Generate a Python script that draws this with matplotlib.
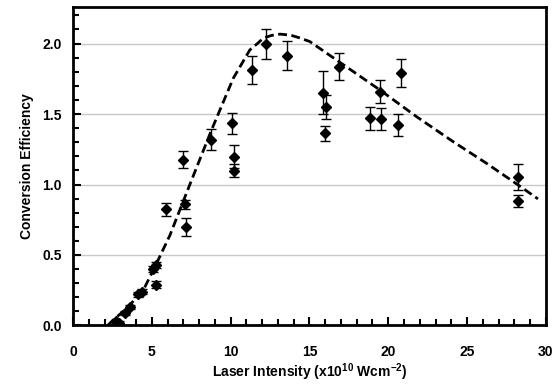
import matplotlib
matplotlib.use("Agg")
import matplotlib.pyplot as plt
from matplotlib.ticker import MultipleLocator

plt.rcParams["font.family"] = ["Liberation Sans", "DejaVu Sans"]
plt.rcParams["font.weight"] = "bold"
plt.rcParams["mathtext.fontset"] = "custom"
plt.rcParams["mathtext.rm"] = "Liberation Sans:bold"
plt.rcParams["mathtext.bf"] = "Liberation Sans:bold"
plt.rcParams["axes.unicode_minus"] = False

# measured points: intensity (x1e10 W/cm2), efficiency, error
intensity = [2.7, 2.95, 3.3, 3.6, 4.1, 4.35, 5.1, 5.25, 5.25, 5.9, 6.96, 7.1,
             7.14, 8.73, 10.1, 10.2, 10.2, 11.37, 12.22, 13.55, 15.87, 15.98,
             16.08, 16.87, 18.83, 19.47, 19.53, 20.63, 20.84, 28.24, 28.24]
efficiency = [0.03, 0.02, 0.09, 0.13, 0.22, 0.24, 0.40, 0.43, 0.29, 0.825,
              1.175, 0.86, 0.70, 1.317, 1.435, 1.198, 1.099, 1.813, 1.998,
              1.913, 1.652, 1.364, 1.549, 1.837, 1.470, 1.659, 1.463, 1.423,
              1.79, 1.052, 0.886]
err = [0.01, 0.01, 0.015, 0.015, 0.02, 0.02, 0.02, 0.02, 0.025, 0.047,
       0.06, 0.033, 0.065, 0.075, 0.075, 0.08, 0.046, 0.097, 0.107, 0.103,
       0.154, 0.053, 0.085, 0.098, 0.08, 0.083, 0.077, 0.077, 0.1, 0.094,
       0.043]

# dashed fit curve
fit_x = [2.2, 2.56, 3.4, 4.46, 5.3, 6.15, 6.78, 7.52, 8.79, 10.17, 11.22,
         11.7, 12.07, 12.6, 13.13, 13.8, 14.39, 15.03, 16.87, 19.47, 21.79,
         24.12, 26.23, 28.24, 29.5]
fit_y = [0.0, 0.04, 0.12, 0.25, 0.44, 0.64, 0.82, 1.03, 1.387, 1.754, 1.955,
         2.0, 2.038, 2.058, 2.067, 2.06, 2.04, 2.014, 1.872, 1.671, 1.482,
         1.304, 1.151, 0.997, 0.898]

fig = plt.figure(figsize=(5.55, 3.87), dpi=100)
ax = fig.add_axes([0.1315, 0.159, 0.852, 0.822])

ax.plot(fit_x, fit_y, color="black", lw=2, ls=(0, (3.2, 1.6)), zorder=3)
ax.errorbar(intensity, efficiency, yerr=err, fmt="D", color="black",
            ms=4.8, ecolor="black", elinewidth=1, capsize=3.5, capthick=1,
            zorder=4)

ax.set_xlim(0, 30)
ax.set_ylim(0, 2.257)
ax.xaxis.set_major_locator(MultipleLocator(5))
ax.xaxis.set_minor_locator(MultipleLocator(1))
ax.yaxis.set_major_locator(MultipleLocator(0.5))
ax.yaxis.set_minor_locator(MultipleLocator(0.1))
ax.yaxis.set_major_formatter(plt.FormatStrFormatter("%.1f"))
ax.tick_params(which="both", direction="in", top=False, right=False,
               labelsize=10, width=1.5)
ax.tick_params(which="major", length=6)
ax.tick_params(axis="y", which="major", pad=8)
ax.tick_params(axis="x", which="major", pad=14)
ax.tick_params(which="minor", length=4)
ax.grid(axis="y", which="major", color="#c8c8c8", lw=1)
ax.set_axisbelow(True)
for s in ax.spines.values():
    s.set_linewidth(2)

ax.set_xlabel(r"Laser Intensity (x10$^{10}$ Wcm$^{-2}$)", fontsize=10,
              fontweight="bold", labelpad=2)
ax.set_ylabel("Conversion Efficiency", fontsize=10, fontweight="bold",
              labelpad=6)

fig.savefig("out.png", dpi=100)
